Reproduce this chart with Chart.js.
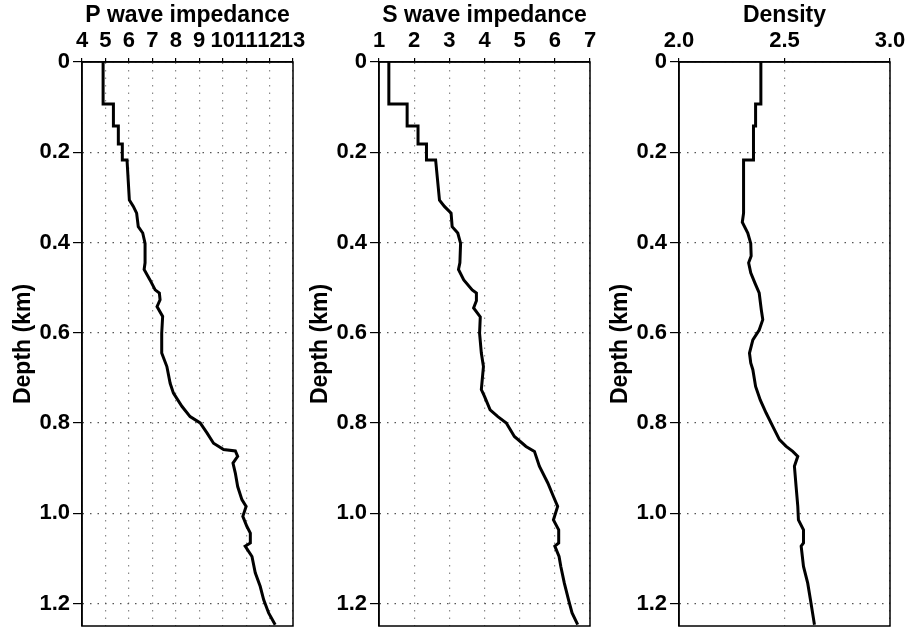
<!DOCTYPE html>
<html>
<head>
<meta charset="utf-8">
<script src="https://cdn.jsdelivr.net/npm/chart.js@4.4.0/dist/chart.umd.min.js"></script>
<style>
  html, body { margin: 0; padding: 0; background: #fff; }
  #wrap { position: relative; width: 909px; height: 628px; overflow: hidden; }
  canvas { position: absolute; top: 0; }
</style>
</head>
<body>
<div id="wrap">
  <canvas id="pChart" width="312" height="628" style="left:0px"></canvas>
  <canvas id="sChart" width="312" height="628" style="left:297px"></canvas>
  <canvas id="rhoChart" width="312" height="628" style="left:597px"></canvas>
</div>
<script>
// tick values + labels
const depthTicks = [0, 0.2, 0.4, 0.6, 0.8, 1.0, 1.2];
const depthLabels = ['0', '0.2', '0.4', '0.6', '0.8', '1.0', '1.2'];
const pTicks = [4, 5, 6, 7, 8, 9, 10, 11, 12, 13];
const pLabels = ['4', '5', '6', '7', '8', '9', '10', '11', '12', '13'];
const sTicks = [1, 2, 3, 4, 5, 6, 7];
const sLabels = ['1', '2', '3', '4', '5', '6', '7'];
const rhoTicks = [2.0, 2.5, 3.0];
const rhoLabels = ['2.0', '2.5', '3.0'];

// P wave impedance log
const pDepth = [0, 0.093, 0.093, 0.142, 0.142, 0.182, 0.182, 0.217, 0.217, 0.306, 0.32, 0.335,
  0.365, 0.379, 0.402, 0.445, 0.46, 0.483, 0.505, 0.512, 0.527, 0.542, 0.564, 0.601, 0.645,
  0.675, 0.712, 0.734, 0.763, 0.786, 0.80, 0.822, 0.845, 0.859, 0.862, 0.874, 0.889, 0.911,
  0.941, 0.97, 0.985, 1.007, 1.029, 1.044, 1.066, 1.073, 1.096, 1.132, 1.162, 1.192, 1.221, 1.247];
const pValue = [4.9, 4.9, 5.34, 5.34, 5.55, 5.55, 5.72, 5.72, 5.92, 6.02, 6.19, 6.33,
  6.40, 6.59, 6.69, 6.69, 6.65, 6.90, 7.12, 7.30, 7.33, 7.20, 7.44, 7.40, 7.40,
  7.62, 7.76, 7.90, 8.26, 8.61, 9.04, 9.33, 9.61, 10.04, 10.54, 10.64, 10.44, 10.54,
  10.64, 10.82, 11.00, 10.86, 11.03, 11.18, 11.18, 10.96, 11.25, 11.39, 11.60, 11.75, 11.96, 12.24];

// S wave impedance log
const sDepth = [0, 0.093, 0.093, 0.142, 0.142, 0.182, 0.182, 0.217, 0.217, 0.306, 0.32, 0.335,
  0.365, 0.379, 0.402, 0.445, 0.46, 0.483, 0.505, 0.512, 0.529, 0.545, 0.565, 0.601, 0.645,
  0.675, 0.726, 0.741, 0.771, 0.786, 0.80, 0.83, 0.852, 0.863, 0.896, 0.933, 0.963, 0.985,
  1.015, 1.037, 1.066, 1.073, 1.096, 1.118, 1.155, 1.192, 1.221, 1.247];
const sValue = [1.28, 1.28, 1.80, 1.80, 2.11, 2.11, 2.35, 2.35, 2.61, 2.72, 2.86, 3.05,
  3.08, 3.24, 3.32, 3.30, 3.26, 3.41, 3.65, 3.77, 3.77, 3.69, 3.88, 3.86, 3.91,
  3.97, 3.91, 4.00, 4.16, 4.38, 4.62, 4.85, 5.18, 5.42, 5.56, 5.80, 5.96, 6.08,
  5.96, 6.11, 6.11, 6.00, 6.12, 6.17, 6.27, 6.39, 6.49, 6.65];

// density log
const rhoDepth = [0, 0.093, 0.093, 0.142, 0.142, 0.217, 0.217, 0.335, 0.355, 0.379, 0.402, 0.43,
  0.445, 0.467, 0.49, 0.512, 0.549, 0.571, 0.594, 0.616, 0.645, 0.667, 0.682, 0.719, 0.749,
  0.778, 0.808, 0.837, 0.852, 0.863, 0.874, 0.896, 0.941, 0.985, 1.015, 1.037, 1.066, 1.073,
  1.118, 1.155, 1.192, 1.247];
const rhoValue = [2.388, 2.388, 2.363, 2.363, 2.353, 2.353, 2.306, 2.306, 2.30, 2.326, 2.34, 2.342,
  2.33, 2.34, 2.36, 2.38, 2.39, 2.397, 2.38, 2.35, 2.334, 2.34, 2.35, 2.363, 2.385,
  2.413, 2.445, 2.476, 2.508, 2.539, 2.563, 2.547, 2.555, 2.563, 2.566, 2.59, 2.59, 2.579,
  2.59, 2.61, 2.623, 2.642];

const fam = "'Liberation Sans', Arial, Helvetica, sans-serif";
const tickFont = { family: fam, size: 22, weight: 'bold' };
const titleFont = { family: fam, size: 23, weight: 'bold' };

// box round the plot area
const frame = {
  id: 'frame',
  afterDraw(chart) {
    const { ctx, chartArea: a } = chart;
    ctx.save();
    ctx.strokeStyle = '#000';
    ctx.lineWidth = 1.5;
    ctx.strokeRect(a.left, a.top, a.right - a.left, a.bottom - a.top);
    ctx.restore();
  }
};

function makePanel(id, title, xTicks, xLabels, depth, values) {
  new Chart(document.getElementById(id), {
    type: 'scatter',
    data: {
      datasets: [{
        data: depth.map((d, i) => ({ x: values[i], y: d })),
        showLine: true,
        borderColor: '#000',
        borderWidth: 3,
        pointRadius: 0,
        fill: false
      }]
    },
    options: {
      responsive: false,
      animation: false,
      devicePixelRatio: 1,
      layout: { padding: { top: 0, left: 0, right: 19, bottom: 2 } },
      plugins: { legend: { display: false }, tooltip: { enabled: false } },
      scales: {
        x: {
          type: 'linear',
          position: 'top',
          min: xTicks[0],
          max: xTicks[xTicks.length - 1],
          afterBuildTicks: s => { s.ticks = xTicks.map(v => ({ value: v })); },
          afterFit: s => { s.height = 62; s.paddingLeft = 0; s.paddingRight = 0; },
          ticks: { autoSkip: false, maxRotation: 0, padding: 4, color: '#000', font: tickFont,
            callback: (v, i) => xLabels[i] },
          grid: { color: '#8a8a8a', lineWidth: 1.2, tickLength: 4, tickColor: '#000', tickWidth: 1.2 },
          border: { color: '#000', width: 1.5, dash: [1.5, 6] },
          title: { display: true, text: title, color: '#000', font: titleFont, padding: { top: 2, bottom: 0 } }
        },
        y: {
          type: 'linear',
          reverse: true,
          min: 0,
          max: 1.25,
          afterBuildTicks: s => { s.ticks = depthTicks.map(v => ({ value: v })); },
          afterFit: s => { s.width = 82; s.paddingTop = 0; s.paddingBottom = 0; },
          ticks: { padding: 3, color: '#000', font: tickFont, callback: (v, i) => depthLabels[i] },
          grid: { color: '#555', lineWidth: 1.2, tickLength: 9, tickColor: '#000', tickWidth: 1.2 },
          border: { color: '#000', width: 1.5, dash: [1.5, 6] },
          title: { display: true, text: 'Depth (km)', color: '#000', font: titleFont, padding: { top: 10, bottom: 0 } }
        }
      }
    },
    plugins: [frame]
  });
}

makePanel('pChart', 'P wave impedance', pTicks, pLabels, pDepth, pValue);
makePanel('sChart', 'S wave impedance', sTicks, sLabels, sDepth, sValue);
makePanel('rhoChart', 'Density', rhoTicks, rhoLabels, rhoDepth, rhoValue);
</script>
</body>
</html>
